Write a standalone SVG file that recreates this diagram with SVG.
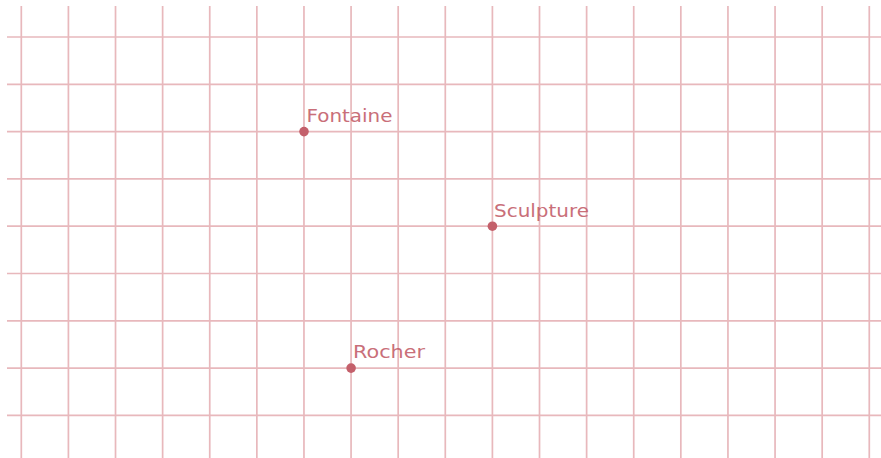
<svg xmlns="http://www.w3.org/2000/svg" width="881" height="458" viewBox="0 0 881 458">
<style>
.grid{stroke:#d98a91;stroke-width:1.7;fill:none;opacity:0.6}
.pt{fill:#c4606b}
.lbl{fill:#c4606b;font-family:"DejaVu Sans",Verdana,sans-serif;font-size:18px;opacity:0.9}
</style>
<rect width="881" height="458" fill="#ffffff"/>
<g id="grid" class="grid">
<path d="M21.3 6V458M68.41 6V458M115.52 6V458M162.63 6V458M209.74 6V458M256.85 6V458M303.96 6V458M351.07 6V458M398.18 6V458M445.29 6V458M492.4 6V458M539.51 6V458M586.62 6V458M633.73 6V458M680.84 6V458M727.95 6V458M775.06 6V458M822.17 6V458M869.28 6V458"/>
<path d="M7 37H881M7 84.3H881M7 131.6H881M7 178.9H881M7 226.2H881M7 273.5H881M7 320.8H881M7 368.1H881M7 415.4H881"/>
</g>
<g id="connectors"></g>
<g id="fontaine">
<circle class="pt" cx="304" cy="131.6" r="4.8"/>
<text class="lbl" x="306.5" y="121.5" textLength="86" lengthAdjust="spacingAndGlyphs">Fontaine</text>
</g>
<g id="sculpture">
<circle class="pt" cx="492.4" cy="226.2" r="4.8"/>
<text class="lbl" x="494" y="216.5" textLength="95" lengthAdjust="spacingAndGlyphs">Sculpture</text>
</g>
<g id="rocher">
<circle class="pt" cx="351.1" cy="368.1" r="4.8"/>
<text class="lbl" x="353" y="357.5" textLength="72" lengthAdjust="spacingAndGlyphs">Rocher</text>
</g>
</svg>
